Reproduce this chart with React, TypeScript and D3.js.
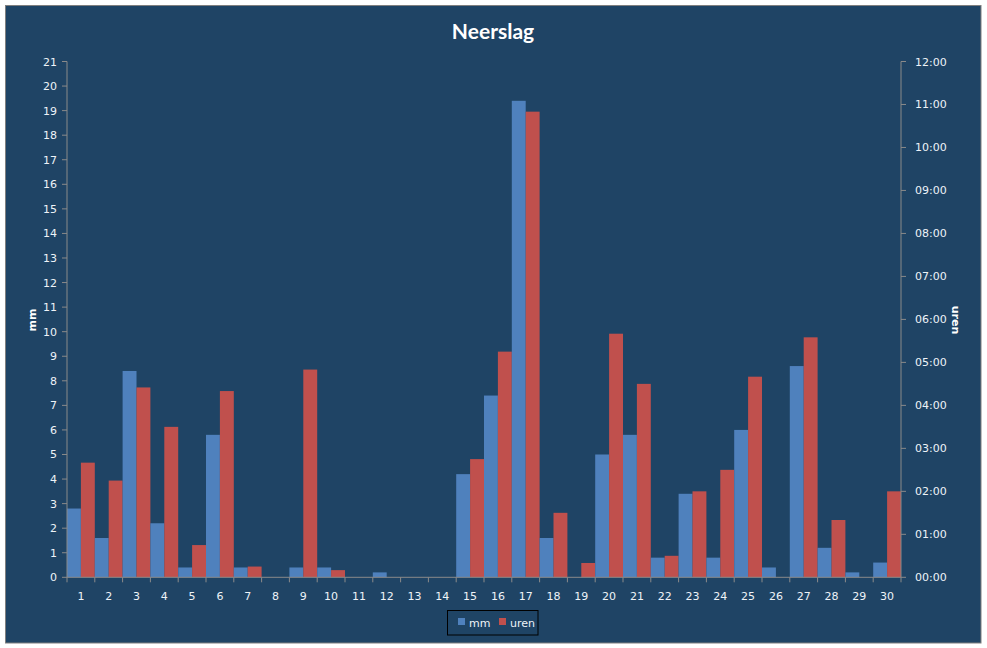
import React from "react";
import * as d3 from "d3";

const days = Array.from({ length: 30 }, (_, i) => String(i + 1));
const mm = [2.8, 1.6, 8.4, 2.2, 0.4, 5.8, 0.4, 0, 0.4, 0.4, 0, 0.2, 0, 0, 4.2, 7.4, 19.4, 1.6, 0, 5.0, 5.8, 0.8, 3.4, 0.8, 6.0, 0.4, 8.6, 1.2, 0.2, 0.6];
// hours (decimal)
const uren = [2.667, 2.25, 4.417, 3.5, 0.75, 4.333, 0.25, 0, 4.833, 0.167, 0, 0, 0, 0, 2.75, 5.25, 10.833, 1.5, 0.333, 5.667, 4.5, 0.5, 2.0, 2.5, 4.667, 0, 5.583, 1.333, 0, 2.0];
const mmTicks = d3.range(0, 22, 1);
const urenTicks = d3.range(0, 13, 1);
const seriesNames = ["mm", "uren"];

const W = 987;
const H = 648;
const left = 67;
const right = 901;
const top = 61.5;
const bottom = 577.3;
const BG = "#1F4465";
const BLUE = "#4F81BD";
const RED = "#C0504D";
const AXIS = "#8A8A8A";
const TXT = "#EEF3F8";
const FONT = "Tahoma, 'DejaVu Sans', sans-serif";

export default function App() {
  const x = d3.scaleBand<string>().domain(days).range([left, right]).paddingInner(0).paddingOuter(0);
  const sub = d3.scaleBand<string>().domain(seriesNames).range([0, x.bandwidth()]).padding(0);
  const yL = d3.scaleLinear().domain([0, 21]).range([bottom, top]);
  const yR = d3.scaleLinear().domain([0, 12]).range([bottom, top]);
  const fmtH = (h: number) => `${String(h).padStart(2, "0")}:00`;

  return (
    <svg width={W} height={H} style={{ position: "absolute", left: 0, top: 0, background: "#fff" }}>
      <rect x={5.5} y={5.5} width={975.5} height={637.5} fill={BG} stroke="#7F7F7F" strokeWidth={1} />
      <text x={493} y={39} textAnchor="middle" fill="#fff" fontFamily="Lato, 'Open Sans', sans-serif" fontWeight="bold" fontSize={21}>
        Neerslag
      </text>

      {/* bars */}
      {days.map((d, i) => (
        <g key={d}>
          <rect x={(x(d) as number) + (sub("mm") as number)} y={yL(mm[i])} width={sub.bandwidth()} height={bottom - yL(mm[i])} fill={BLUE} />
          <rect x={(x(d) as number) + (sub("uren") as number)} y={yR(uren[i])} width={sub.bandwidth()} height={bottom - yR(uren[i])} fill={RED} />
        </g>
      ))}

      {/* left axis */}
      <line x1={left} x2={left} y1={top} y2={bottom} stroke={AXIS} />
      {mmTicks.map((t) => (
        <g key={"l" + t}>
          <line x1={left - 5} x2={left} y1={yL(t)} y2={yL(t)} stroke={AXIS} />
          <text x={57} y={yL(t) + 4} textAnchor="end" fill={TXT} fontFamily={FONT} fontSize={11}>
            {t}
          </text>
        </g>
      ))}
      <text transform={`translate(36,320) rotate(-90)`} textAnchor="middle" fill="#fff" fontFamily={FONT} fontWeight="bold" fontSize={11}>
        mm
      </text>

      {/* right axis */}
      <line x1={right} x2={right} y1={top} y2={bottom} stroke={AXIS} />
      {urenTicks.map((t) => (
        <g key={"r" + t}>
          <line x1={right} x2={right + 5} y1={yR(t)} y2={yR(t)} stroke={AXIS} />
          <text x={915} y={yR(t) + 4} textAnchor="start" fill={TXT} fontFamily={FONT} fontSize={11}>
            {fmtH(t)}
          </text>
        </g>
      ))}
      <text transform={`translate(952,320) rotate(90)`} textAnchor="middle" fill="#fff" fontFamily={FONT} fontWeight="bold" fontSize={11}>
        uren
      </text>

      {/* x axis */}
      <line x1={left} x2={right} y1={bottom} y2={bottom} stroke={AXIS} />
      {days.map((d) => (
        <g key={"x" + d}>
          <line x1={(x(d) as number) + x.bandwidth()} x2={(x(d) as number) + x.bandwidth()} y1={bottom} y2={bottom + 5} stroke={AXIS} />
          <text x={(x(d) as number) + x.bandwidth() / 2} y={600} textAnchor="middle" fill={TXT} fontFamily={FONT} fontSize={11}>
            {d}
          </text>
        </g>
      ))}
      <line x1={left} x2={left} y1={bottom} y2={bottom + 5} stroke={AXIS} />

      {/* legend */}
      <rect x={447.5} y={610.5} width={90.5} height={24.5} fill="none" stroke="#000" strokeWidth={1} />
      <rect x={458} y={618} width={7} height={7} fill={BLUE} />
      <text x={469} y={627} fill={TXT} fontFamily={FONT} fontSize={11}>mm</text>
      <rect x={499} y={618} width={7} height={7} fill={RED} />
      <text x={510} y={627} fill={TXT} fontFamily={FONT} fontSize={11}>uren</text>
    </svg>
  );
}
